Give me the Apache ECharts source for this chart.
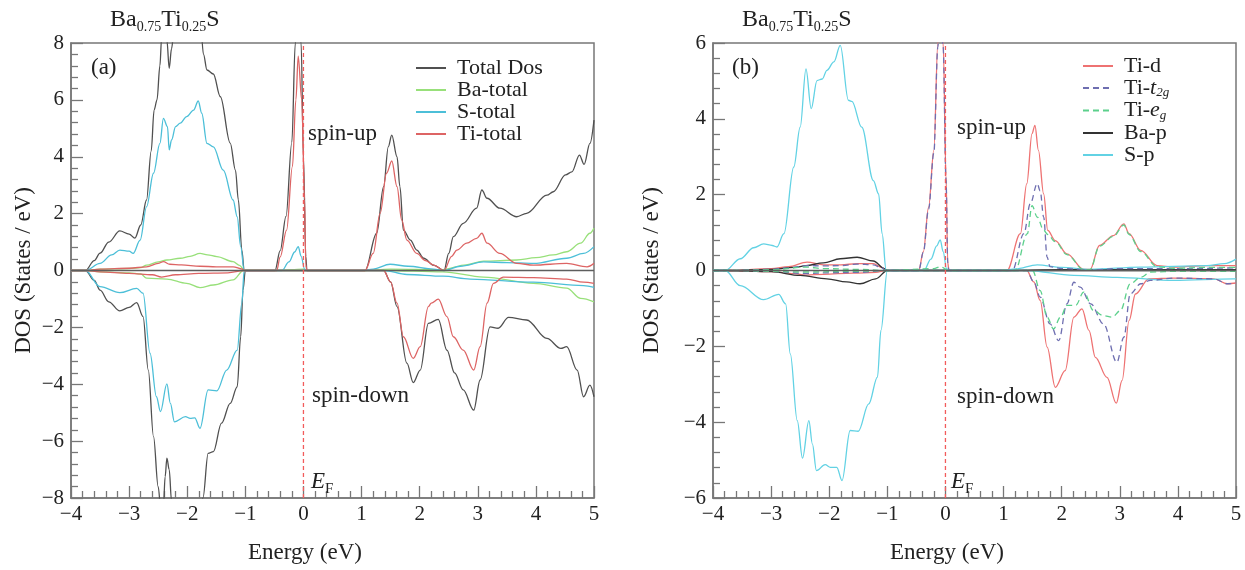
<!DOCTYPE html>
<html>
<head>
<meta charset="utf-8">
<script src="https://cdn.jsdelivr.net/npm/echarts@6/dist/echarts.min.js"></script>
<style>html,body{margin:0;padding:0;background:#fff}#c{width:1245px;height:570px}</style>
</head>
<body>
<div id="c"></div>
<script>
// ---------- Panel (a): total / atom-resolved DOS  [energy (eV), DOS] ----------
const totalUp = [[-4,0],[-3.75,0],[-3.6,0.35],[-3.5,0.61],[-3.35,1.0],[-3.16,1.39],[-3.0,1.28],[-2.9,1.14],[-2.8,1.6],[-2.7,2.48],[-2.62,4.2],[-2.57,5.64],[-2.52,6.0],[-2.47,7.2],[-2.44,8.2],[-2.4,8.9],[-2.35,8.1],[-2.31,7.11],[-2.27,7.8],[-2.22,8.6],[-2.1,9.5],[-1.9,10],[-1.78,9],[-1.72,7.6],[-1.66,7.05],[-1.55,6.91],[-1.43,6.11],[-1.26,4.48],[-1.17,3.53],[-1.12,2.48],[-1.06,0.72],[-1.02,0],[-0.49,0],[-0.40,0.7],[-0.30,1.9],[-0.2,4.5],[-0.14,8.0],[-0.09,9.0],[-0.04,8.0],[0.0,4.0],[0.04,0.5],[0.06,0],[1.06,0],[1.26,1.31],[1.38,2.95],[1.46,4.35],[1.52,4.76],[1.61,4.0],[1.66,2.95],[1.72,1.42],[1.84,1.07],[1.95,0.72],[2.07,0.43],[2.24,0.19],[2.42,0],[2.5,0.6],[2.58,1.19],[2.75,1.66],[2.98,2.19],[3.07,2.83],[3.16,2.54],[3.38,2.19],[3.67,1.89],[3.84,2.01],[4.19,2.65],[4.30,2.77],[4.51,3.36],[4.62,3.47],[4.75,4.06],[4.83,3.73],[4.93,4.47],[5.0,5.29]];
const totalDn = [[-4,0],[-3.75,0],[-3.6,-0.35],[-3.5,-0.69],[-3.35,-1.1],[-3.16,-1.42],[-3.0,-1.3],[-2.87,-1.13],[-2.76,-1.62],[-2.67,-3.5],[-2.58,-5.84],[-2.50,-7.6],[-2.45,-8.5],[-2.41,-8.3],[-2.38,-7.25],[-2.35,-6.6],[-2.31,-7.0],[-2.27,-8.1],[-2.2,-9],[-2.0,-10],[-1.8,-9],[-1.73,-8.0],[-1.64,-6.43],[-1.55,-6.37],[-1.41,-5.37],[-1.26,-4.67],[-1.14,-4.09],[-1.08,-2.33],[-1.04,-0.69],[-1.0,0],[1.38,0],[1.5,-0.4],[1.61,-1.27],[1.78,-3.26],[1.89,-3.94],[2.01,-3.5],[2.15,-1.86],[2.32,-1.72],[2.47,-2.8],[2.6,-3.6],[2.75,-4.2],[2.93,-4.91],[3.04,-3.85],[3.21,-1.98],[3.35,-2.03],[3.53,-1.65],[3.84,-1.74],[4.19,-2.39],[4.43,-2.74],[4.53,-2.68],[4.71,-3.5],[4.82,-4.44],[4.93,-4.03],[5.0,-4.44]];
const baUp = [[-4,0],[-3.75,0],[-3.5,0.05],[-3.0,0.07],[-2.8,0.1],[-2.7,0.19],[-2.5,0.3],[-2.35,0.37],[-2.12,0.43],[-1.95,0.5],[-1.78,0.6],[-1.65,0.55],[-1.49,0.49],[-1.21,0.31],[-1.1,0.18],[-1.02,0.02],[-0.5,0],[-0.2,0.03],[0,0.05],[0.06,0],[1.0,0],[1.5,0.05],[2.4,0.03],[2.8,0.2],[3.1,0.33],[3.67,0.37],[4.0,0.45],[4.3,0.55],[4.53,0.66],[4.77,0.96],[4.93,1.31],[5.0,1.49]];
const baDn = [[-4,0],[-3.75,0],[-3.5,-0.05],[-3.0,-0.08],[-2.8,-0.12],[-2.7,-0.27],[-2.35,-0.3],[-2.01,-0.45],[-1.78,-0.6],[-1.55,-0.51],[-1.21,-0.33],[-1.03,0],[1.38,0],[2.4,-0.05],[3.1,-0.23],[3.96,-0.45],[4.53,-0.62],[4.77,-0.98],[5.0,-1.1]];
const sUp = [[-4,0],[-3.75,0],[-3.5,0.25],[-3.3,0.55],[-3.16,0.72],[-3.0,0.68],[-2.93,0.60],[-2.81,1.07],[-2.70,2.24],[-2.58,3.42],[-2.47,4.47],[-2.41,5.35],[-2.34,5.06],[-2.31,4.24],[-2.27,4.59],[-2.20,5.06],[-2.12,5.18],[-2.01,5.41],[-1.89,5.64],[-1.81,5.96],[-1.75,5.53],[-1.66,4.47],[-1.55,4.35],[-1.38,3.53],[-1.21,2.48],[-1.14,1.89],[-1.08,0.84],[-1.02,0],[-0.37,0],[-0.25,0.3],[-0.15,0.65],[-0.09,0.84],[-0.04,0.5],[0.02,0.05],[0.06,0],[1.0,0],[1.2,0.05],[1.49,0.22],[1.8,0.15],[2.24,0.05],[2.42,0],[2.7,0.15],[3.1,0.3],[3.5,0.28],[3.96,0.25],[4.53,0.43],[4.82,0.6],[5.0,0.84]];
const sDn = [[-4,0],[-3.75,0],[-3.5,-0.57],[-3.16,-0.78],[-2.87,-0.63],[-2.76,-0.80],[-2.64,-2.91],[-2.53,-4.44],[-2.46,-4.96],[-2.35,-3.99],[-2.29,-4.67],[-2.22,-5.32],[-2.03,-5.14],[-1.95,-5.2],[-1.87,-5.18],[-1.78,-5.55],[-1.64,-4.2],[-1.49,-4.23],[-1.32,-3.5],[-1.14,-2.8],[-1.06,-1.15],[-1.02,0],[1.38,0],[1.78,-0.14],[2.4,-0.2],[2.87,-0.3],[3.96,-0.41],[4.82,-0.53],[5.0,-0.59]];
const tiUp = [[-4,0],[-3.75,0],[-3.5,0.05],[-3.0,0.08],[-2.7,0.13],[-2.5,0.25],[-2.41,0.31],[-2.3,0.22],[-2.1,0.2],[-1.78,0.15],[-1.5,0.13],[-1.21,0.13],[-1.05,0.05],[-1.02,0],[-0.46,0],[-0.40,0.48],[-0.29,1.42],[-0.19,3.65],[-0.13,6.0],[-0.09,7.54],[-0.03,6.0],[0.02,2.5],[0.04,0.2],[0.06,0],[1.06,0],[1.2,0.6],[1.32,2.01],[1.43,3.42],[1.52,3.85],[1.61,2.95],[1.69,1.78],[1.78,1.07],[1.95,0.6],[2.1,0.35],[2.24,0.19],[2.42,0],[2.55,0.5],[2.64,0.72],[2.81,0.96],[2.98,1.13],[3.07,1.31],[3.16,0.96],[3.38,0.6],[3.67,0.25],[3.96,0.19],[4.53,0.25],[4.88,0.13],[5.0,0.25]];
const tiDn = [[-4,0],[-3.75,0],[-3.5,-0.05],[-3.0,-0.1],[-2.6,-0.15],[-2.44,-0.23],[-2.2,-0.15],[-1.8,-0.1],[-1.3,-0.08],[-1.02,0],[1.38,0],[1.5,-0.4],[1.61,-1.15],[1.72,-2.33],[1.89,-3.09],[2.01,-2.68],[2.15,-1.27],[2.20,-1.15],[2.32,-1.01],[2.47,-1.62],[2.58,-2.33],[2.75,-2.8],[2.93,-3.5],[3.04,-2.68],[3.16,-1.15],[3.27,-0.45],[3.44,-0.23],[3.96,-0.25],[4.53,-0.3],[4.82,-0.41],[5.0,-0.45]];

// ---------- Panel (b): orbital-resolved DOS ----------
const tidUp = [[-4,0],[-3.75,0],[-3.0,0.05],[-2.7,0.1],[-2.38,0.22],[-2.1,0.15],[-1.8,0.15],[-1.52,0.18],[-1.24,0.18],[-1.1,0.08],[-1.02,0],[-0.46,0],[-0.38,0.5],[-0.29,1.67],[-0.20,3.17],[-0.13,6.0],[-0.09,7.4],[-0.04,6.0],[0.01,2.5],[0.04,0.2],[0.06,0],[1.06,0],[1.29,0.97],[1.40,2.29],[1.49,3.61],[1.54,3.83],[1.60,3.17],[1.69,2.02],[1.76,1.06],[1.89,0.79],[2.09,0.44],[2.38,0.03],[2.49,0.03],[2.65,0.66],[2.89,0.92],[3.07,1.23],[3.16,0.97],[3.36,0.53],[3.64,0.13],[3.93,0.09],[4.5,0.13],[5.0,0.13]];
const tidDn = [[-4,0],[-3.75,0],[-3.0,-0.03],[-2.6,-0.08],[-2.4,-0.12],[-2.1,-0.1],[-1.6,-0.07],[-1.2,-0.05],[-1.02,0],[1.40,0],[1.52,-0.3],[1.63,-0.79],[1.75,-2.02],[1.89,-3.08],[2.06,-2.64],[2.21,-1.23],[2.35,-1.01],[2.47,-1.58],[2.58,-2.29],[2.78,-2.82],[2.94,-3.50],[3.04,-2.90],[3.16,-1.32],[3.27,-0.62],[3.50,-0.22],[3.93,-0.2],[4.62,-0.22],[4.85,-0.35],[5.0,-0.33]];
const t2gUp = [[-4,0],[-3.75,0],[-3.0,0.03],[-2.7,0.07],[-2.38,0.13],[-2.1,0.12],[-1.8,0.13],[-1.52,0.17],[-1.24,0.15],[-1.1,0.07],[-1.02,0],[-0.46,0],[-0.38,0.48],[-0.29,1.62],[-0.20,3.1],[-0.13,5.9],[-0.09,7.3],[-0.04,5.9],[0.01,2.4],[0.04,0.2],[0.06,0],[1.15,0],[1.35,0.97],[1.46,1.76],[1.58,2.29],[1.63,2.1],[1.69,1.41],[1.75,0.35],[1.8,0.1],[2.0,0.05],[2.5,0.02],[3.0,0.05],[4.0,0.05],[5.0,0.07]];
const t2gDn = [[-4,0],[-3.75,0],[-3.0,-0.02],[-2.4,-0.08],[-2.0,-0.06],[-1.5,-0.05],[-1.02,0],[1.40,0],[1.52,-0.3],[1.63,-0.7],[1.80,-1.41],[1.95,-1.85],[2.09,-0.88],[2.21,-0.31],[2.32,-0.44],[2.50,-0.88],[2.72,-1.41],[2.95,-2.42],[3.07,-1.76],[3.18,-0.62],[3.36,-0.35],[3.53,-0.26],[3.93,-0.2],[4.62,-0.22],[4.85,-0.35],[5.0,-0.33]];
const egUp = [[-4,0],[-3.75,0],[-3.0,0.02],[-2.38,0.09],[-2.1,0.05],[-1.5,0.03],[-1.02,0],[-0.2,0.05],[-0.09,0.1],[0.06,0],[1.2,0],[1.41,0.97],[1.49,1.71],[1.58,1.41],[1.69,1.06],[1.76,0.95],[1.89,0.76],[2.09,0.42],[2.38,0.02],[2.49,0.02],[2.65,0.64],[2.89,0.9],[3.07,1.2],[3.16,0.95],[3.36,0.5],[3.64,0.1],[3.93,0.06],[4.5,0.08],[5.0,0.08]];
const egDn = [[-4,0],[-3.75,0],[-2.4,-0.04],[-1.5,-0.02],[-1.02,0],[1.50,0],[1.63,-0.53],[1.75,-1.23],[1.86,-1.54],[1.98,-1.23],[2.09,-0.92],[2.24,-0.92],[2.38,-0.57],[2.55,-1.06],[2.72,-1.19],[2.87,-1.23],[3.01,-1.06],[3.18,-0.35],[3.36,-0.18],[3.53,-0.04],[4.0,-0.02],[5.0,-0.02]];
const bapUp = [[-4,0],[-3.75,0],[-3.0,0.03],[-2.6,0.08],[-2.4,0.13],[-2.1,0.2],[-1.81,0.31],[-1.52,0.35],[-1.24,0.25],[-1.05,0.05],[-1.0,0],[1.0,0],[2.0,0.02],[5.0,0.02]];
const bapDn = [[-4,0],[-3.75,0],[-3.0,-0.03],[-2.5,-0.13],[-2.04,-0.22],[-1.7,-0.3],[-1.47,-0.35],[-1.2,-0.22],[-1.0,0],[5.0,0]];
const spUp = [[-4,0],[-3.79,0],[-3.53,0.31],[-3.3,0.6],[-3.13,0.70],[-2.98,0.66],[-2.90,0.62],[-2.78,0.97],[-2.61,2.73],[-2.50,3.78],[-2.40,5.32],[-2.31,4.27],[-2.21,5.01],[-2.12,5.05],[-2.04,5.28],[-1.92,5.5],[-1.81,5.94],[-1.67,4.49],[-1.61,4.46],[-1.44,3.78],[-1.24,2.37],[-1.15,2.02],[-1.09,0.97],[-1.02,0],[-0.37,0],[-0.25,0.3],[-0.15,0.65],[-0.09,0.81],[-0.04,0.5],[0.02,0.05],[0.06,0],[1.0,0],[1.2,0.04],[1.58,0.15],[2.0,0.08],[2.49,0.03],[3.36,0.09],[4.5,0.13],[4.8,0.18],[5.0,0.3]];
const spDn = [[-4,0],[-3.79,0],[-3.53,-0.40],[-3.13,-0.77],[-2.87,-0.63],[-2.75,-0.88],[-2.67,-2.2],[-2.55,-3.96],[-2.46,-4.95],[-2.35,-3.96],[-2.29,-4.57],[-2.22,-5.28],[-2.07,-5.12],[-1.98,-5.19],[-1.87,-5.19],[-1.78,-5.54],[-1.64,-4.22],[-1.50,-4.24],[-1.32,-3.52],[-1.17,-2.81],[-1.11,-1.58],[-1.0,0],[1.4,0],[2.21,-0.13],[2.95,-0.18],[3.93,-0.26],[4.96,-0.22],[5.0,-0.22]];

// ---------- axes / labels ----------
const xTicks = [-4,-3,-2,-1,0,1,2,3,4,5];
const yRangeA = [-8, 8];
const yRangeB = [-6, 6];
const fermiE = 0;
const legendA = ['Total Dos','Ba-total','S-total','Ti-total'];
const legendB = ['Ti-d','Ti-t2g','Ti-eg','Ba-p','S-p'];

const SERIF = "'Liberation Serif','Times New Roman',serif";
const AX = '#777';
const chart = echarts.init(document.getElementById('c'));

function fmtNum(v){ return v < 0 ? '\u2212' + (-v) : String(v); }

function xAxis(gi){
  return {
    type:'value', gridIndex:gi, min:xTicks[0], max:xTicks[xTicks.length-1], interval:1,
    axisLine:{show:true, onZero:false, lineStyle:{color:AX, width:1.5}},
    axisTick:{show:true, inside:true, length:12, lineStyle:{color:AX, width:1.3}},
    minorTick:{show:true, splitNumber:5, length:7, lineStyle:{color:AX, width:1.3}},
    splitLine:{show:false},
    axisLabel:{fontFamily:SERIF, fontSize:21, color:'#222', margin:6, formatter:fmtNum},
    name:'Energy (eV)', nameLocation:'middle', nameGap:43,
    nameTextStyle:{fontFamily:SERIF, fontSize:23, color:'#222', padding:[0,55,0,0]}
  };
}
function yAxis(gi, rng, gap){
  return {
    type:'value', gridIndex:gi, min:rng[0], max:rng[1], interval:2,
    axisLine:{show:true, onZero:false, lineStyle:{color:AX, width:1.5}},
    axisTick:{show:true, inside:true, length:12, lineStyle:{color:AX, width:1.3}},
    minorTick:{show:true, splitNumber:5, length:7, lineStyle:{color:AX, width:1.3}},
    splitLine:{show:false},
    axisLabel:{fontFamily:SERIF, fontSize:21, color:'#222', margin:7, formatter:fmtNum},
    name:'DOS (States / eV)', nameLocation:'middle', nameGap:gap,
    nameTextStyle:{fontFamily:SERIF, fontSize:23, color:'#222'}
  };
}
function line(name, data, color, gi, dashed, z, smooth){
  return {
    type:'line', name:name, data:data, xAxisIndex:gi, yAxisIndex:gi,
    symbol:'none', smooth: smooth === undefined ? 0.35 : smooth, smoothMonotone:'x',
    clip:true, silent:true, z:z||2,
    itemStyle:{color:color},
    lineStyle:{color:color, width:1.3, type: dashed ? [6,4] : 'solid'}
  };
}
function zeroLine(gi){
  const s = line('zero'+gi, [[xTicks[0],0],[xTicks[xTicks.length-1],0]], '#5e5e5e', gi, false, 4, false);
  s.lineStyle.width = 1.4;
  return s;
}
function fermiLine(gi, rng){
  const s = line('EF'+gi, [[fermiE,rng[0]],[fermiE,rng[1]]], '#f25c5c', gi, false, 5, false);
  s.lineStyle.width = 1.3;
  s.lineStyle.type = [4,3];
  return s;
}

const cA = {tot:'#505050', ba:'#98e07a', s:'#4cbfd8', ti:'#dd6464'};
const cB = {d:'#ee7272', t2g:'#6e6eb0', eg:'#5cd08c', ba:'#333333', s:'#62d2e4'};

const series = [
  line('Total Dos', totalUp, cA.tot, 0), line('Total Dos', totalDn, cA.tot, 0),
  line('Ba-total', baUp, cA.ba, 0), line('Ba-total', baDn, cA.ba, 0),
  line('S-total', sUp, cA.s, 0), line('S-total', sDn, cA.s, 0),
  line('Ti-total', tiUp, cA.ti, 0, false, 3), line('Ti-total', tiDn, cA.ti, 0, false, 3),
  zeroLine(0), fermiLine(0, yRangeA),
  line('Ti-d', tidUp, cB.d, 1), line('Ti-d', tidDn, cB.d, 1),
  line('Ti-t2g', t2gUp, cB.t2g, 1, true, 3), line('Ti-t2g', t2gDn, cB.t2g, 1, true, 3),
  line('Ti-eg', egUp, cB.eg, 1, true, 3), line('Ti-eg', egDn, cB.eg, 1, true, 3),
  line('Ba-p', bapUp, cB.ba, 1), line('Ba-p', bapDn, cB.ba, 1),
  line('S-p', spUp, cB.s, 1), line('S-p', spDn, cB.s, 1),
  zeroLine(1), fermiLine(1, yRangeB)
];

const richBase = {
  n:{fontFamily:SERIF, fontSize:22, color:'#222'},
  i:{fontFamily:SERIF, fontSize:22, color:'#222', fontStyle:'italic'},
  s:{fontFamily:SERIF, fontSize:13, color:'#222', fontStyle:'italic', padding:[10,0,0,0]}
};
function legendFmt(name){
  if (name === 'Ti-t2g') return '{n|Ti-}{i|t}{s|2g}';
  if (name === 'Ti-eg') return '{n|Ti-}{i|e}{s|g}';
  return '{n|' + name + '}';
}
function legend(names, left, top){
  return {
    data:names, orient:'vertical', left:left, top:top, itemWidth:30, itemHeight:14, itemGap:0,
    padding:0, selectedMode:false,
    itemStyle:{color:'rgba(0,0,0,0)', borderColor:'rgba(0,0,0,0)', borderWidth:0, opacity:0},
    textStyle:{fontFamily:SERIF, fontSize:22, color:'#222', padding:[0,0,0,6], rich:richBase},
    formatter:legendFmt
  };
}

function txt(x, y, text, rich){
  return {type:'text', x:x, y:y, silent:true, z:100,
    style:{text:text, rich:rich, verticalAlign:'middle', align:'left',
      font:'22px ' + SERIF, fill:'#222'}};
}
const richTitle = {
  m:{fontFamily:SERIF, fontSize:24, color:'#222'},
  s:{fontFamily:SERIF, fontSize:14, color:'#222', padding:[14,0,0,0]}
};
const richEF = {
  e:{fontFamily:SERIF, fontSize:23, color:'#222', fontStyle:'italic'},
  f:{fontFamily:SERIF, fontSize:15, color:'#222', padding:[14,0,0,0]}
};
const richPlain = {
  p:{fontFamily:SERIF, fontSize:23, color:'#222'}
};
const titleTxt = '{m|Ba}{s|0.75}{m|Ti}{s|0.25}{m|S}';

chart.setOption({
  animation:false,
  backgroundColor:'#fff',
  grid:[
    {left:71, top:43, width:523, height:455, show:true, borderColor:AX, borderWidth:1.5, containLabel:false},
    {left:713, top:43, width:523, height:455, show:true, borderColor:AX, borderWidth:1.5, containLabel:false}
  ],
  xAxis:[xAxis(0), xAxis(1)],
  yAxis:[yAxis(0, yRangeA, 36), yAxis(1, yRangeB, 50)],
  legend:[legend(legendA, 415, 57), legend(legendB, 1082, 55)],
  series:series,
  graphic:[
    txt(110, 20, titleTxt, richTitle),
    txt(742, 20, titleTxt, richTitle),
    txt(91, 68, '{p|(a)}', richPlain),
    txt(732, 68, '{p|(b)}', richPlain),
    txt(308, 134, '{p|spin-up}', richPlain),
    txt(312, 396, '{p|spin-down}', richPlain),
    txt(957, 128, '{p|spin-up}', richPlain),
    txt(957, 397, '{p|spin-down}', richPlain),
    txt(311, 482, '{e|E}{f|F}', richEF),
    txt(951, 482, '{e|E}{f|F}', richEF)
  ]
});
</script>
</body>
</html>
